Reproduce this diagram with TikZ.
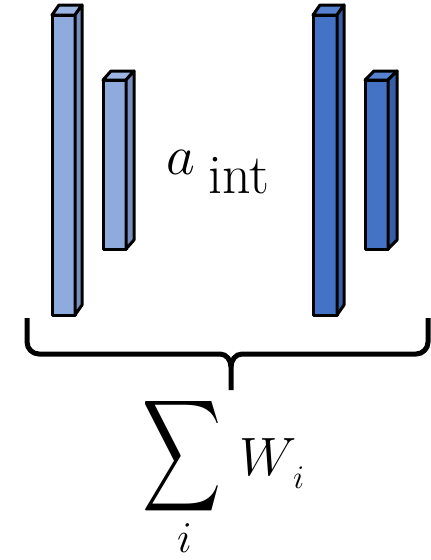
\documentclass[tikz,border=0pt]{standalone}
\usepackage{fix-cm}
\usepackage{graphicx}
\usetikzlibrary{calc}
\definecolor{lfront}{HTML}{8FAADC}
\definecolor{ltop}{HTML}{9CB5E2}
\definecolor{lside}{HTML}{7790C0}
\definecolor{dfront}{HTML}{4472C4}
\definecolor{dtop}{HTML}{5681CE}
\definecolor{dside}{HTML}{365FA8}
\newcommand{\mycuboid}[7]{%
  \filldraw[fill=#7front,bar] (#1,#3) rectangle (#2,#4);
  \filldraw[fill=#7top,bar] (#1,#3) -- ++(#5,#6) -- ($(#2,#3)+(#5,#6)$) -- (#2,#3) -- cycle;
  \filldraw[fill=#7side,bar] (#2,#3) -- ++(#5,#6) -- ($(#2,#4)+(#5,#6)$) -- (#2,#4) -- cycle;
}
\tikzset{
  bar/.style={draw=black,line width=3pt,line join=round},
  brace/.style={draw=black,line width=5pt},
  lbl/.style={inner sep=0pt,anchor=base west}
}
\begin{document}
\begin{tikzpicture}[x=1pt,y=-1pt]
\useasboundingbox (0,0) rectangle (431,560);
% bars
\mycuboid{52}{75}{15}{315}{7}{-10}{l}
\mycuboid{103}{126}{80}{249}{8}{-9}{l}
\mycuboid{313}{337}{15}{315}{7}{-10}{d}
\mycuboid{365}{388}{80}{249}{9}{-9}{d}
% label
\node[lbl] (a) at (166,174) {\fontsize{56}{60}\selectfont$a$};
\node[lbl] (int) at (208,193) {\fontsize{56}{60}\selectfont int};
% brace
\coordinate (bl) at (27,318);
\coordinate (br) at (428,318);
\coordinate (bt) at (231,390);
\draw[brace] (bl) -- (27,342) to[out=-90,in=180] (39,354) -- (220,354) to[out=0,in=90] (231,367) -- (bt);
\draw[brace] (br) -- (428,342) to[out=-90,in=0] (416,354) -- (242,354) to[out=180,in=90] (231,367);
% sum
\node[inner sep=0pt] (sum) at (182.5,456.5) {\resizebox*{79pt}{125pt}{$\displaystyle\sum$}};
\node[lbl] (si) at (177,552) {\fontsize{44}{50}\selectfont$i$};
\node[lbl] (w) at (239,475) {\fontsize{54}{60}\selectfont$W$};
\node[lbl] (wi) at (293,488) {\fontsize{33}{40}\selectfont$i$};
\end{tikzpicture}
\end{document}
